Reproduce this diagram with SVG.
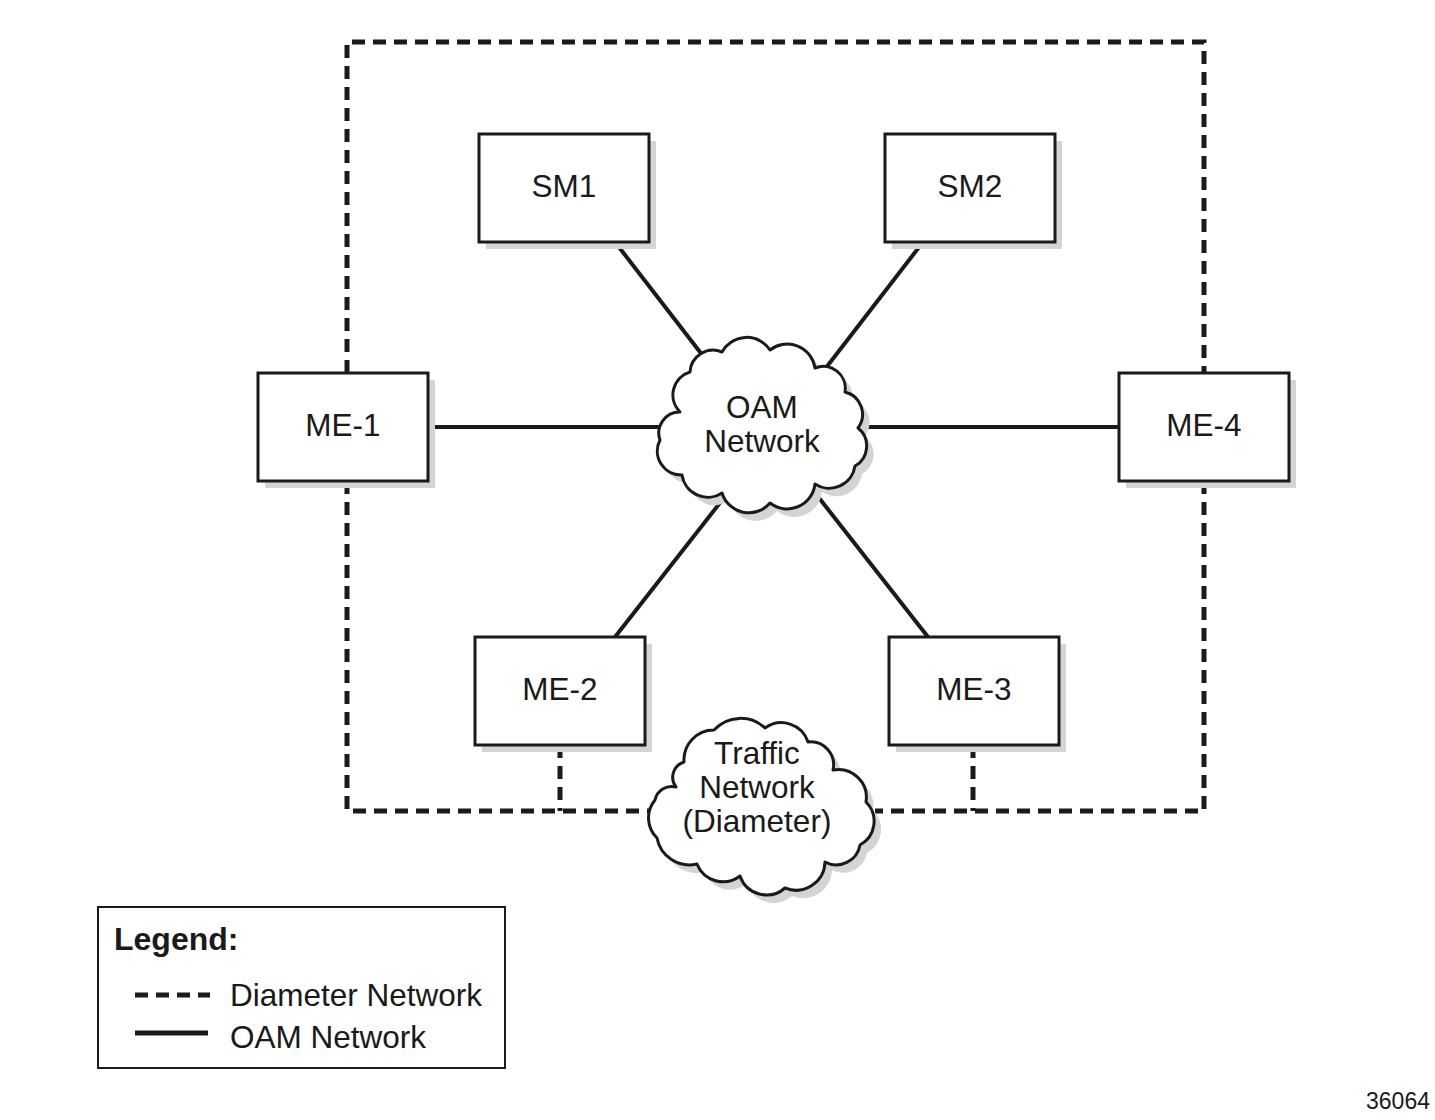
<svg xmlns="http://www.w3.org/2000/svg" width="1435" height="1120" viewBox="0 0 1435 1120">
<style>
text{font-family:"Liberation Sans",Arial,sans-serif;fill:#1a1a1a}
.lbl{font-size:31.5px;text-anchor:middle}
.box{fill:#fff;stroke:#1a1a1a;stroke-width:3}
.shadow{fill:#d4d4d4}
.oam{stroke:#1a1a1a;stroke-width:4;fill:none}
.dia{stroke:#1a1a1a;stroke-width:5;fill:none;stroke-dasharray:13 8}
.cloud{fill:#fff;stroke:#1a1a1a;stroke-width:3;stroke-linejoin:round}
</style>
<rect width="1435" height="1120" fill="#fff"/>
<g id="connectors">
<path class="dia" d="M347 373 V42 H1204 V373"/>
<path class="dia" d="M347 481 V811 H650"/>
<path class="dia" d="M1204 481 V811 H875"/>
<path class="dia" d="M560 745 V811"/>
<path class="dia" d="M973 745 V811"/>
<path class="oam" d="M615 242 L710 365"/>
<path class="oam" d="M923 242 L815 382"/>
<path class="oam" d="M428 427 H680"/>
<path class="oam" d="M1119 427 H850"/>
<path class="oam" d="M615 637 L730 490"/>
<path class="oam" d="M928 637 L805 480"/>
</g>
<g id="oam-cloud">
<path class="shadow" transform="translate(7,8)" d="M690 372 A23 23 0 0 1 722 352 A28 28 0 0 1 770 350 A28 28 0 0 1 815 368 A22 22 0 0 1 845 392 A23 23 0 0 1 858 428 A23 23 0 0 1 855 466 A26 26 0 0 1 815 484 A28 28 0 0 1 770 503 A28 28 0 0 1 722 493 A26 26 0 0 1 682 475 A24 24 0 0 1 660 440 A21 21 0 0 1 680 412 A24 24 0 0 1 690 372 Z"/>
<path class="cloud" d="M690 372 A23 23 0 0 1 722 352 A28 28 0 0 1 770 350 A28 28 0 0 1 815 368 A22 22 0 0 1 845 392 A23 23 0 0 1 858 428 A23 23 0 0 1 855 466 A26 26 0 0 1 815 484 A28 28 0 0 1 770 503 A28 28 0 0 1 722 493 A26 26 0 0 1 682 475 A24 24 0 0 1 660 440 A21 21 0 0 1 680 412 A24 24 0 0 1 690 372 Z"/>
<text class="lbl" x="762" y="418">OAM</text>
<text class="lbl" x="762" y="452">Network</text>
</g>
<g id="traffic-cloud">
<path class="shadow" transform="translate(7,8)" d="M684 762 A30 30 0 0 1 714 730 A36 36 0 0 1 765 728 A28 28 0 0 1 808 742 A23 23 0 0 1 833 770 A28 28 0 0 1 866 802 A27 27 0 0 1 860 845 A24 24 0 0 1 825 862 A29 29 0 0 1 785 888 A28 28 0 0 1 740 876 A28 28 0 0 1 697 864 A33 33 0 0 1 657 838 A28 28 0 0 1 655 800 A17 17 0 0 1 676 787 A16 16 0 0 1 684 762 Z"/>
<path class="cloud" d="M684 762 A30 30 0 0 1 714 730 A36 36 0 0 1 765 728 A28 28 0 0 1 808 742 A23 23 0 0 1 833 770 A28 28 0 0 1 866 802 A27 27 0 0 1 860 845 A24 24 0 0 1 825 862 A29 29 0 0 1 785 888 A28 28 0 0 1 740 876 A28 28 0 0 1 697 864 A33 33 0 0 1 657 838 A28 28 0 0 1 655 800 A17 17 0 0 1 676 787 A16 16 0 0 1 684 762 Z"/>
<text class="lbl" x="757" y="764">Traffic</text>
<text class="lbl" x="757" y="798">Network</text>
<text class="lbl" x="757" y="832">(Diameter)</text>
</g>
<g id="SM1">
<rect class="shadow" x="486" y="141" width="170" height="108"/>
<rect class="box" x="479" y="134" width="170" height="108"/>
<text class="lbl" x="564" y="197">SM1</text>
</g>
<g id="SM2">
<rect class="shadow" x="892" y="141" width="170" height="108"/>
<rect class="box" x="885" y="134" width="170" height="108"/>
<text class="lbl" x="970" y="197">SM2</text>
</g>
<g id="ME-1">
<rect class="shadow" x="265" y="380" width="170" height="108"/>
<rect class="box" x="258" y="373" width="170" height="108"/>
<text class="lbl" x="343" y="436">ME-1</text>
</g>
<g id="ME-4">
<rect class="shadow" x="1126" y="380" width="170" height="108"/>
<rect class="box" x="1119" y="373" width="170" height="108"/>
<text class="lbl" x="1204" y="436">ME-4</text>
</g>
<g id="ME-2">
<rect class="shadow" x="482" y="644" width="170" height="108"/>
<rect class="box" x="475" y="637" width="170" height="108"/>
<text class="lbl" x="560" y="700">ME-2</text>
</g>
<g id="ME-3">
<rect class="shadow" x="896" y="644" width="170" height="108"/>
<rect class="box" x="889" y="637" width="170" height="108"/>
<text class="lbl" x="974" y="700">ME-3</text>
</g>
<g id="legend">
<rect x="98" y="907" width="407" height="161" fill="#fff" stroke="#1a1a1a" stroke-width="2"/>
<text x="114" y="950" font-size="32" font-weight="bold">Legend:</text>
<path class="dia" d="M135 995 H210" stroke-dasharray="13 7"/>
<path d="M135 1033 H208" stroke="#1a1a1a" stroke-width="5"/>
<text x="230" y="1006" font-size="31.5">Diameter Network</text>
<text x="230" y="1048" font-size="31.5">OAM Network</text>
</g>
<text x="1430" y="1109" font-size="23" text-anchor="end">36064</text>
</svg>
